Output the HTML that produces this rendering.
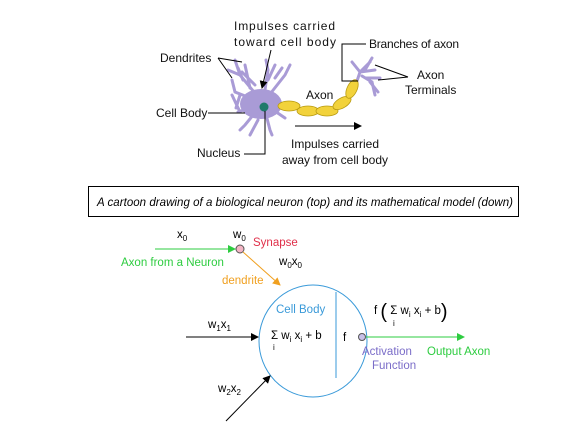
<!DOCTYPE html>
<html><head><meta charset="utf-8"><style>
body{margin:0;background:#fff}
svg{display:block;font-family:"Liberation Sans",sans-serif}
</style></head><body>
<svg width="586" height="431" viewBox="0 0 586 431">
<defs>
<marker id="ab" markerWidth="8" markerHeight="8" refX="7" refY="4" orient="auto"><path d="M0,0 L8,4 L0,8z" fill="#000"/></marker>
<marker id="ag" markerWidth="8" markerHeight="8" refX="7" refY="4" orient="auto"><path d="M0,0 L8,4 L0,8z" fill="#2ecc40"/></marker>
<marker id="ao" markerWidth="8" markerHeight="8" refX="7" refY="4" orient="auto"><path d="M0,0 L8,4 L0,8z" fill="#f0a020"/></marker>
</defs>
<g font-size="12" fill="#111">
 <g stroke="#a99bd6" stroke-width="3" fill="none" stroke-linecap="round">
  <path d="M263,103 L240,75 L235,60 M240,75 L228,70 M250,88 L245,65 M263,103 L268,70 L266,60 M268,80 L275,65 M263,103 L285,75 L290,65 M263,103 L235,92 L232,80 M263,103 L238,112 M263,103 L245,125 L240,130 M263,103 L270,130 L272,135 M263,103 L285,118 M255,85 L242,72 M258,120 L250,135 M240,95 L236,108 M275,78 L282,68 M243,80 L238,68 M232,95 L240,112"/>
  <path d="M355,87 L360,72 L370,62 M360,72 L375,70 M362,76 L372,82 L375,95 M360,72 L352,62 M365,70 L372,58 M366,78 L380,78 M370,82 L378,92"/>
 </g>
 <ellipse cx="261" cy="104" rx="21" ry="15" fill="#a99bd6"/>
 <ellipse cx="264" cy="107" rx="4.5" ry="4.5" fill="#1f7a6a"/>
 <g fill="#f2d23b" stroke="#b89a10" stroke-width="0.8">
  <ellipse cx="289" cy="106" rx="11" ry="5"/><ellipse cx="308" cy="111" rx="11" ry="5"/><ellipse cx="327" cy="111" rx="11" ry="5"/><ellipse cx="342" cy="103" rx="10" ry="5" transform="rotate(-30 342 103)"/><ellipse cx="352" cy="89" rx="10" ry="5" transform="rotate(-65 352 89)"/>
 </g>
 <text x="234" y="30" textLength="101">Impulses carried</text>
 <text x="234" y="46" textLength="102">toward cell body</text>
 <path d="M271,50 L262,88" stroke="#000" fill="none" marker-end="url(#ab)"/>
 <text x="160" y="62">Dendrites</text>
 <path d="M218,58 L242,62 M218,58 L232,78" stroke="#000" fill="none"/>
 <text x="156" y="117">Cell Body</text>
 <path d="M208,113 L245,113" stroke="#000"/>
 <text x="197" y="157">Nucleus</text>
 <path d="M244,154 L265,154 L265,111" stroke="#000" fill="none"/>
 <text x="306" y="99">Axon</text>
 <path d="M295,126 L361,126" stroke="#000" marker-end="url(#ab)"/>
 <text x="291" y="148" textLength="88">Impulses carried</text>
 <text x="282" y="164" textLength="106">away from cell body</text>
 <text x="369" y="48" textLength="90">Branches of axon</text>
 <path d="M366,44 L342,44 L342,81 L358,81" stroke="#000" fill="none"/>
 <text x="417" y="79">Axon</text>
 <text x="405" y="94">Terminals</text>
 <path d="M408,77 L375,65 M408,77 L378,80" stroke="#000" fill="none"/>
</g>
<g>
 <rect x="88.5" y="186.5" width="430" height="30" fill="#fff" stroke="#000"/>
 <text x="97" y="206" textLength="416" font-size="11.5" font-style="italic">A cartoon drawing of a biological neuron (top) and its mathematical model (down)</text>
</g>
<g font-size="11.5">
 <text x="177" y="238">x<tspan font-size="8" dy="3">0</tspan></text>
 <path d="M155,249 L235,249" stroke="#2ecc40" marker-end="url(#ag)"/>
 <circle cx="240" cy="249" r="4" fill="#f3b5c4" stroke="#555"/>
 <text x="233" y="238">w<tspan font-size="8" dy="3">0</tspan></text>
 <text x="253" y="246" fill="#e0304a">Synapse</text>
 <text x="121" y="266" fill="#2ecc40">Axon from a Neuron</text>
 <path d="M243,252 L280,285" stroke="#f0a020" marker-end="url(#ao)"/>
 <text x="279" y="265">w<tspan font-size="8" dy="3">0</tspan><tspan dy="-3">x</tspan><tspan font-size="8" dy="3">0</tspan></text>
 <text x="222" y="284" fill="#f0a020">dendrite</text>
 <ellipse cx="313" cy="341" rx="54" ry="56" fill="none" stroke="#3a9ad9"/>
 <path d="M336,292 L336,378" stroke="#3a9ad9"/>
 <text x="276" y="313" fill="#3a9ad9">Cell Body</text>
 <text x="208" y="328">w<tspan font-size="8" dy="3">1</tspan><tspan dy="-3">x</tspan><tspan font-size="8" dy="3">1</tspan></text>
 <path d="M186,337 L258,337" stroke="#000" marker-end="url(#ab)"/>
 <text x="271" y="339">Σ  w<tspan font-size="8" dy="3">i</tspan><tspan dy="-3"> x</tspan><tspan font-size="8" dy="3">i</tspan><tspan dy="-3"> + b</tspan></text>
 <text x="273" y="350" font-size="8">i</text>
 <text x="343" y="341">f</text>
 <circle cx="362" cy="337" r="3.5" fill="#c8c0e8" stroke="#555"/>
 <path d="M366,337 L464,337" stroke="#2ecc40" marker-end="url(#ag)"/>
 <text x="374" y="314">f <tspan font-size="20" dy="4">(</tspan><tspan dy="-4"> Σ  w</tspan><tspan font-size="8" dy="3">i</tspan><tspan dy="-3"> x</tspan><tspan font-size="8" dy="3">i</tspan><tspan dy="-3"> + b</tspan><tspan font-size="20" dy="4">)</tspan></text>
 <text x="393" y="326" font-size="8">i</text>
 <text x="362" y="355" fill="#7a6cc8">Activation</text>
 <text x="372" y="369" fill="#7a6cc8">Function</text>
 <text x="427" y="355" fill="#2ecc40">Output Axon</text>
 <text x="218" y="392">w<tspan font-size="8" dy="3">2</tspan><tspan dy="-3">x</tspan><tspan font-size="8" dy="3">2</tspan></text>
 <path d="M226,421 L270,376" stroke="#000" marker-end="url(#ab)"/>
</g>
</svg>
</body></html>
